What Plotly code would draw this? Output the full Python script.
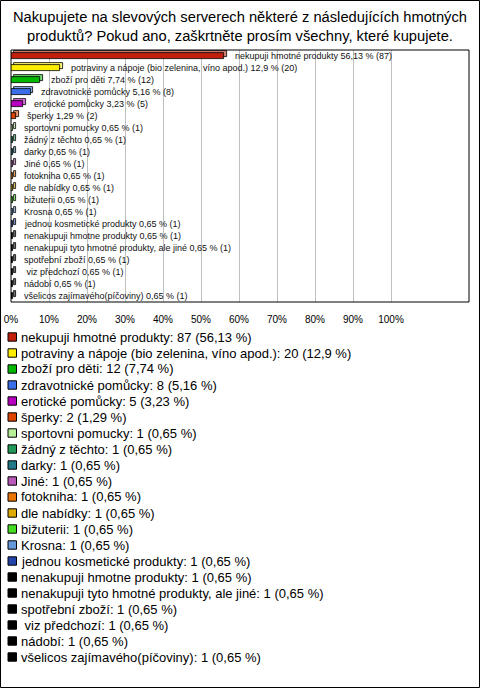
import plotly.graph_objects as go

W, H = 480, 688

categories = [
    "nekupuji hmotné produkty",
    "potraviny a nápoje (bio zelenina, víno apod.)",
    "zboží pro děti",
    "zdravotnické pomůcky",
    "erotické pomůcky",
    "šperky",
    "sportovni pomucky",
    "žádný z těchto",
    "darky",
    "Jiné",
    "fotokniha",
    "dle nabídky",
    "bižuterii",
    "Krosna",
    "jednou kosmetické produkty",
    "nenakupuji hmotne produkty",
    "nenakupuji tyto hmotné produkty, ale jiné",
    "spotřební zboží",
    " viz předchozí",
    "nádobí",
    "všelicos zajímavého(píčoviny)",
]
counts = [87, 20, 12, 8, 5, 2, 1, 1, 1, 1, 1, 1, 1, 1, 1, 1, 1, 1, 1, 1, 1]
percents = [56.13, 12.9, 7.74, 5.16, 3.23, 1.29, 0.65, 0.65, 0.65, 0.65, 0.65,
            0.65, 0.65, 0.65, 0.65, 0.65, 0.65, 0.65, 0.65, 0.65, 0.65]
colors = ["#c2200c", "#ffee00", "#00b800", "#3a6ee8", "#b800c0", "#dc4400",
          "#b8ee98", "#22995a", "#227a88", "#b858b8", "#ec7400", "#dcaa00",
          "#44dd22", "#6898dc", "#2444aa", "#000000", "#000000", "#000000",
          "#000000", "#000000", "#000000"]
x_ticks = [0, 10, 20, 30, 40, 50, 60, 70, 80, 90, 100]
x_tick_labels = ["0%", "10%", "20%", "30%", "40%", "50%", "60%", "70%", "80%", "90%", "100%"]

title = ("Nakupujete na slevových serverech některé z následujících hmotných<br>"
         "produktů? Pokud ano, zaškrtněte prosím všechny, které kupujete.")

FONT = "Arial, Liberation Sans, sans-serif"


def lighten(hexc, f=0.45):
    h = hexc.lstrip("#")
    r, g, b = int(h[0:2], 16), int(h[2:4], 16), int(h[4:6], 16)
    r = int(r + (255 - r) * f)
    g = int(g + (255 - g) * f)
    b = int(b + (255 - b) * f)
    return f"rgb({r},{g},{b})"


def fmt(v):
    return f"{v:g}".replace(".", ",")


n = len(categories)
idx = list(range(n))
depth = 0.75  # 3D depth in % units

# plot area in px
PL, PR, PT, PB = 11, 469, 50, 302
xmax = 100 * (PR - PL) / (391 - PL)

fig = go.Figure()
# back (top/side) faces
fig.add_trace(go.Bar(
    orientation="h", y=idx, x=percents, base=[depth] * n,
    width=0.52, offset=-0.44,
    marker=dict(color=[lighten(c) for c in colors], line=dict(color="#000000", width=0.8)),
    hoverinfo="skip", showlegend=False,
))
# front faces
fig.add_trace(go.Bar(
    orientation="h", y=idx, x=percents, base=[0] * n,
    width=0.52, offset=-0.24,
    marker=dict(color=colors, line=dict(color="#000000", width=0.8)),
    hoverinfo="skip", showlegend=False,
))

annotations = []
for i in range(n):
    annotations.append(dict(
        x=percents[i] + depth, y=i, xref="x", yref="y",
        text=f"{categories[i]} {fmt(percents[i])} % ({counts[i]})",
        showarrow=False, xanchor="left", yanchor="middle", xshift=6,
        font=dict(family=FONT, size=9, color="#111111"),
    ))

shapes = []
# legend
L0, LS = 337, 16.0
for i in range(n):
    yc = L0 + LS * i
    shapes.append(dict(
        type="rect", xref="paper", yref="paper",
        x0=8 / W, x1=16.5 / W, y0=1 - (yc - 4.2) / H, y1=1 - (yc + 4.2) / H,
        fillcolor=colors[i], line=dict(color="#000000", width=1),
    ))
    annotations.append(dict(
        x=18.5 / W, y=1 - yc / H, xref="paper", yref="paper",
        text=f"{categories[i]}: {counts[i]} ({fmt(percents[i])} %)",
        showarrow=False, xanchor="left", yanchor="middle",
        font=dict(family=FONT, size=13, color="#000000"),
    ))

# title
annotations.append(dict(
    x=0.5, y=1 - 27 / H, xref="paper", yref="paper", text=title,
    showarrow=False, xanchor="center", yanchor="middle", align="center",
    font=dict(family=FONT, size=14.7, color="#000000"),
))

# plot frame
shapes.append(dict(type="rect", xref="x domain", yref="y domain", x0=0, x1=1, y0=0, y1=1,
                   line=dict(color="#000000", width=1), fillcolor="rgba(0,0,0,0)", layer="above"))
# outer border
shapes.append(dict(type="rect", xref="paper", yref="paper",
                   x0=0.5 / W, x1=(W - 0.5) / W, y0=0.5 / H, y1=(H - 0.5) / H,
                   line=dict(color="#000000", width=1), fillcolor="rgba(0,0,0,0)"))

fig.update_layout(
    width=W, height=H,
    margin=dict(l=0, r=0, t=0, b=0, autoexpand=False),
    paper_bgcolor="#ffffff", plot_bgcolor="#ffffff",
    barmode="overlay", bargap=0,
    showlegend=False,
    font=dict(family=FONT, color="#000000"),
    xaxis=dict(
        domain=[PL / W, PR / W], range=[0, xmax], automargin=False,
        tickvals=x_ticks, ticktext=x_tick_labels,
        ticks="outside", ticklen=8, tickcolor="rgba(0,0,0,0)",
        tickfont=dict(family=FONT, size=10, color="#000000"),
        showgrid=True, gridcolor="#c0c0c0", gridwidth=1,
        zeroline=False, showline=False, fixedrange=True,
    ),
    yaxis=dict(
        domain=[1 - PB / H, 1 - PT / H], range=[n - 0.5, -0.5], automargin=False,
        showticklabels=False, showgrid=False, zeroline=False, ticks="",
        fixedrange=True,
    ),
    annotations=annotations,
    shapes=shapes,
)

fig.write_html(
    "out.html",
    config={"displayModeBar": False},
    post_script="document.body.style.margin='0';document.body.style.overflow='hidden';",
)
